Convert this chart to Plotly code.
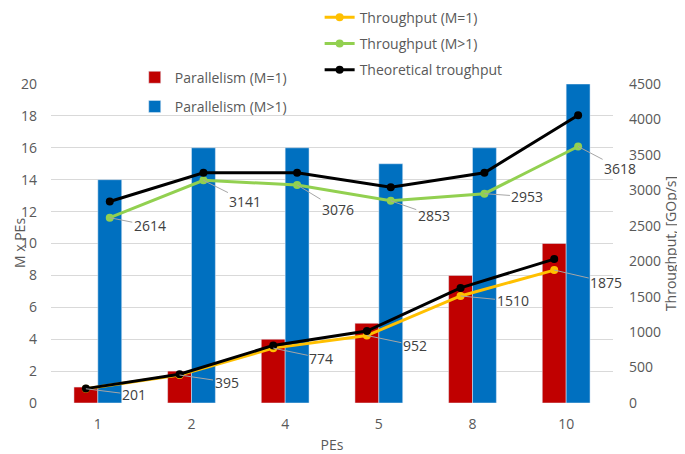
import plotly.graph_objects as go

categories = ["1", "2", "4", "5", "8", "10"]
par_m1 = [1, 2, 4, 5, 8, 10]
par_mgt1 = [14, 16, 16, 15, 16, 20]
thr_m1 = [201, 395, 774, 952, 1510, 1875]
thr_mgt1 = [2614, 3141, 3076, 2853, 2953, 3618]
theo_m1 = [203, 406, 812, 1015, 1624, 2030]
theo_mgt1 = [2842, 3248, 3248, 3045, 3248, 4060]
left_ticks = list(range(0, 21, 2))
right_ticks = list(range(0, 4501, 500))

FONT = "Open Sans"
GREY = "#595959"
FS = 14
BARGAP = 0.49
half = (1 - BARGAP) / 4  # centre offset of each bar in a 2-bar group

idx = list(range(len(categories)))
x_left = [i - half for i in idx]
x_right = [i + half for i in idx]

fig = go.Figure()
fig.add_trace(go.Bar(x=idx, y=par_m1, name="Parallelism (M=1)", marker_color="#C00000",
                     legend="legend", legendgroup="a"))
fig.add_trace(go.Bar(x=idx, y=par_mgt1, name="Parallelism (M>1)", marker_color="#0070C0",
                     legend="legend", legendgroup="b"))

line_w = 3
msize = 8
fig.add_trace(go.Scatter(x=x_left, y=thr_m1, yaxis="y2", mode="lines+markers",
                         name="Throughput (M=1)", line=dict(color="#FFC000", width=line_w),
                         marker=dict(size=msize), legend="legend2", legendgroup="c"))
fig.add_trace(go.Scatter(x=x_right, y=thr_mgt1, yaxis="y2", mode="lines+markers",
                         name="Throughput (M>1)", line=dict(color="#92D050", width=line_w),
                         marker=dict(size=msize), legend="legend2", legendgroup="d"))
fig.add_trace(go.Scatter(x=x_left, y=theo_m1, yaxis="y2", mode="lines+markers",
                         name="Theoretical troughput", line=dict(color="#000000", width=line_w),
                         marker=dict(size=msize), legend="legend2", legendgroup="e"))
fig.add_trace(go.Scatter(x=x_right, y=theo_mgt1, yaxis="y2", mode="lines+markers",
                         name="Theoretical troughput", line=dict(color="#000000", width=line_w),
                         marker=dict(size=msize), showlegend=False, legendgroup="e"))

annotations = []
off_low = [(48, 6), (47, 7), (48, 10), (48, 10), (52, 5), (52, 12)]
off_high = [(40, 8), (42, 21), (41, 25), (43, 15), (43, 3), (42, 22)]
for xs, ys, offs in ((x_left, thr_m1, off_low), (x_right, thr_mgt1, off_high)):
    for xv, yv, (ax, ay) in zip(xs, ys, offs):
        annotations.append(dict(x=xv, y=yv, xref="x", yref="y2", text=str(yv),
                                showarrow=True, arrowhead=0, arrowwidth=1, arrowcolor="#A6A6A6",
                                ax=ax, ay=ay, font=dict(family=FONT, size=FS, color="#404040")))
# left axis title as a rotated annotation (so it can sit clear of the tick labels)
annotations.append(dict(x=-0.0765, y=0.5, xref="paper", yref="paper", text="M x PEs",
                        textangle=-90, showarrow=False, xanchor="left", yanchor="middle",
                        font=dict(family=FONT, size=FS, color=GREY)))

# page body adds an 8px offset; figure is sized to fit the 685x454 window
fig.update_layout(
    width=677, height=446,
    margin=dict(l=43, r=72, t=76, b=51, autoexpand=False),
    plot_bgcolor="white", paper_bgcolor="white",
    barmode="group", bargap=BARGAP, bargroupgap=0,
    font=dict(family=FONT, size=FS, color=GREY),
    annotations=annotations,
    xaxis=dict(range=[-0.5, len(categories) - 0.5], tickvals=idx, ticktext=categories,
               showgrid=False, zeroline=False, showline=False, ticks="",
               title=dict(text="PEs", font=dict(size=FS, color=GREY), standoff=9),
               tickfont=dict(size=FS, color=GREY), ticklabelstandoff=11),
    yaxis=dict(range=[0, 20], tickvals=left_ticks, showgrid=True, gridcolor="#D9D9D9",
               zeroline=False, showline=False, ticks="",
               tickfont=dict(size=FS, color=GREY), ticklabelstandoff=13),
    yaxis2=dict(range=[0, 4500], tickvals=right_ticks, overlaying="y", side="right",
                showgrid=False, zeroline=False, showline=False, ticks="",
                title=dict(text="Throughput, [GOp/s]", font=dict(size=FS, color=GREY), standoff=6),
                tickfont=dict(size=FS, color=GREY), ticklabelstandoff=15),
    legend=dict(x=0.149, y=1.07, xanchor="left", yanchor="top", bgcolor="rgba(0,0,0,0)",
                font=dict(size=FS, color=GREY), tracegroupgap=8),
    legend2=dict(x=0.478, y=1.258, xanchor="left", yanchor="top", bgcolor="rgba(0,0,0,0)",
                 font=dict(size=FS, color=GREY), tracegroupgap=5),
)

fig.write_html("out.html")
